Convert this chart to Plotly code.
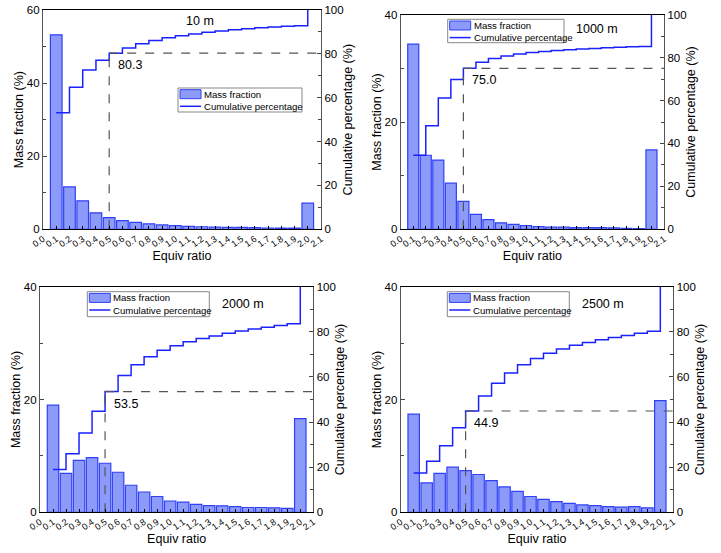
import plotly.graph_objects as go

ratios = [0.1, 0.2, 0.3, 0.4, 0.5, 0.6, 0.7, 0.8, 0.9, 1.0,
          1.1, 1.2, 1.3, 1.4, 1.5, 1.6, 1.7, 1.8, 1.9, 2.0]
x_ticks = [round(i * 0.1, 1) for i in range(22)]

labels = ["10 m", "1000 m", "2000 m", "2500 m"]
legend_names = ["Mass fraction", "Cumulative percentage"]

mass_10 = [53.2, 11.6, 7.8, 4.5, 3.2, 2.4, 1.9, 1.5, 1.2, 1.0,
           0.8, 0.7, 0.6, 0.55, 0.5, 0.45, 0.35, 0.3, 0.3, 7.15]
cum_10 = [53.2, 64.8, 72.6, 77.1, 80.3, 82.7, 84.6, 86.1, 87.3, 88.3,
          89.1, 89.8, 90.4, 90.95, 91.45, 91.9, 92.25, 92.55, 92.85, 100]

mass_1000 = [34.5, 13.8, 12.9, 8.6, 5.2, 2.8, 1.8, 1.2, 0.9, 0.7,
             0.5, 0.4, 0.4, 0.3, 0.3, 0.3, 0.25, 0.2, 0.15, 14.8]
cum_1000 = [34.5, 48.3, 61.2, 69.8, 75.0, 77.8, 79.6, 80.8, 81.7, 82.4,
            82.9, 83.3, 83.7, 84.0, 84.3, 84.6, 84.85, 85.05, 85.2, 100]

mass_2000 = [19.0, 6.9, 9.2, 9.7, 8.7, 7.1, 4.8, 3.6, 2.8, 2.0,
             1.8, 1.4, 1.2, 1.15, 1.0, 0.85, 0.85, 0.8, 0.7, 16.6]
cum_2000 = [19.0, 25.9, 35.1, 44.8, 53.5, 60.6, 65.4, 69.0, 71.8, 73.8,
            75.6, 77.0, 78.2, 79.35, 80.35, 81.2, 82.05, 82.85, 83.55, 100]

mass_2500 = [17.4, 5.2, 6.9, 8.0, 7.4, 6.7, 5.6, 4.5, 3.7, 2.8,
             2.3, 1.9, 1.6, 1.3, 1.2, 1.0, 0.9, 1.0, 0.8, 19.8]
cum_2500 = [17.4, 22.6, 29.5, 37.5, 44.9, 51.6, 57.2, 61.7, 65.4, 68.2,
            70.5, 72.4, 74.0, 75.3, 76.5, 77.5, 78.4, 79.4, 80.2, 100]

mass_max = [60, 40, 40, 40]
threshold_ratio = 0.5

panels = [
    (mass_10, cum_10),
    (mass_1000, cum_1000),
    (mass_2000, cum_2000),
    (mass_2500, cum_2500),
]

W, H = 721, 553
# pixel boxes of plot areas: (left, right, top, bottom)
boxes = [
    (43, 321, 10, 229.3),
    (400.7, 664, 14.7, 229.3),
    (40, 313.3, 286.7, 512.3),
    (400.7, 673.3, 286.7, 512.3),
]
# legend boxes (left, top, right, bottom) in pixels
legend_boxes = [
    (178, 88, 302, 112),
    (447.7, 19.3, 564, 42.7),
    (87.3, 291.7, 209.3, 316.7),
    (447.3, 291.7, 569.3, 316.7),
]
title_pos = [(200, 21), (596.7, 29), (242.7, 304.3), (603.3, 304.3)]

FONT = "Arial, Liberation Sans, sans-serif"
BAR_FILL = "#8c9afa"
BAR_LINE = "#3040f5"
LINE_COL = "#1a22ff"
DASH_COL = "#555555"


def px(xp):
    return xp / W


def py(yp):
    return 1 - yp / H


fig = go.Figure()
layout = dict(
    width=W, height=H, margin=dict(l=0, r=0, t=0, b=0, autoexpand=False),
    paper_bgcolor="white", plot_bgcolor="white",
    font=dict(family=FONT, size=11, color="black"),
    barmode="overlay", showlegend=False,
    annotations=[], shapes=[],
)

for i, (mass, cum) in enumerate(panels):
    n = i + 1
    xa = "x" if n == 1 else f"x{n}"
    yl_n = 2 * i + 1
    yr_n = 2 * i + 2
    yl = "y" if yl_n == 1 else f"y{yl_n}"
    yr = f"y{yr_n}"

    fig.add_trace(go.Bar(
        x=ratios, y=mass, width=0.088, name=legend_names[0],
        marker=dict(color=BAR_FILL, line=dict(color=BAR_LINE, width=1.2)),
        xaxis=xa, yaxis=yl,
    ))
    fig.add_trace(go.Scatter(
        x=ratios, y=cum, mode="lines", line_shape="hv", name=legend_names[1],
        line=dict(color=LINE_COL, width=1.5),
        xaxis=xa, yaxis=yr,
    ))
    k = ratios.index(threshold_ratio)
    tval = cum[k]
    fig.add_trace(go.Scatter(
        x=[threshold_ratio, threshold_ratio, None, threshold_ratio, x_ticks[-1]],
        y=[0, tval, None, tval, tval], mode="lines",
        line=dict(color=DASH_COL, width=1.2, dash="dash"),
        xaxis=xa, yaxis=yr, hoverinfo="skip",
    ))

    L, R, T, B = boxes[i]
    xdom = [L / W, R / W]
    ydom = [1 - B / H, 1 - T / H]
    axkey = "xaxis" if n == 1 else f"xaxis{n}"
    layout[axkey] = dict(
        domain=xdom, anchor=yl, range=[0, 2.1], automargin=False,
        tickmode="array", tickvals=x_ticks, ticktext=[f"{v:.1f}" for v in x_ticks],
        tickangle=-35, tickfont=dict(size=9),
        ticks="inside", ticklen=3, tickcolor="black",
        showline=True, linecolor="black", linewidth=1.2, mirror=True,
        showgrid=False, zeroline=False,
        title=dict(text="Equiv ratio", font=dict(size=12.5), standoff=1),
    )
    ylkey = "yaxis" if yl_n == 1 else f"yaxis{yl_n}"
    layout[ylkey] = dict(
        domain=ydom, anchor=xa, range=[0, mass_max[i]], dtick=20, automargin=False,
        ticks="inside", ticklen=4, tickcolor="#444",
        minor=dict(dtick=10, ticks="inside", ticklen=3, tickcolor="#444"),
        tickfont=dict(size=11.5),
        showline=True, linecolor="#555", linewidth=1.2,
        showgrid=False, zeroline=False,
        title=dict(text="Mass fraction (%)", font=dict(size=12.5), standoff=0),
    )
    layout[f"yaxis{yr_n}"] = dict(
        overlaying=yl, anchor=xa, side="right", range=[0, 100], dtick=20, automargin=False,
        ticks="inside", ticklen=4, tickcolor="#444",
        minor=dict(dtick=10, ticks="inside", ticklen=3, tickcolor="#444"),
        tickfont=dict(size=11.5),
        showline=True, linecolor="#555", linewidth=1.2,
        showgrid=False, zeroline=False,
        title=dict(text="Cumulative percentage (%)", font=dict(size=12.5), standoff=0),
    )

    # legend drawn as a boxed key
    lx0, ly0, lx1, ly1 = legend_boxes[i]
    layout["shapes"].append(dict(
        type="rect", xref="paper", yref="paper",
        x0=px(lx0), x1=px(lx1), y0=py(ly1), y1=py(ly0),
        line=dict(color="#888", width=1), fillcolor="white", layer="above",
    ))
    r1 = ly0 + 6.2
    r2 = ly0 + 18.3
    layout["shapes"].append(dict(
        type="rect", xref="paper", yref="paper",
        x0=px(lx0 + 2), x1=px(lx0 + 23), y0=py(r1 + 4.5), y1=py(r1 - 4.5),
        line=dict(color=BAR_LINE, width=1), fillcolor=BAR_FILL, layer="above",
    ))
    layout["shapes"].append(dict(
        type="line", xref="paper", yref="paper",
        x0=px(lx0 + 2), x1=px(lx0 + 23), y0=py(r2), y1=py(r2),
        line=dict(color=LINE_COL, width=1.5), layer="above",
    ))
    for name, rr in zip(legend_names, (r1, r2)):
        layout["annotations"].append(dict(
            x=px(lx0 + 24), y=py(rr), xref="paper", yref="paper",
            text=name, showarrow=False, font=dict(size=9.6),
            xanchor="left", yanchor="middle",
        ))

    tx, ty = title_pos[i]
    layout["annotations"].append(dict(
        x=px(tx), y=py(ty), xref="paper", yref="paper",
        text=labels[i], showarrow=False, font=dict(size=12.5),
        xanchor="center", yanchor="middle",
    ))
    layout["annotations"].append(dict(
        x=threshold_ratio + 0.05, y=tval - 5.5, xref=xa, yref=yr,
        text=f"{tval:.1f}", showarrow=False, font=dict(size=12.5),
        xanchor="left", yanchor="middle",
    ))

fig.update_layout(**layout)
fig.write_html("out.html", config={"displayModeBar": False},
               post_script="document.body.style.margin='0';")
